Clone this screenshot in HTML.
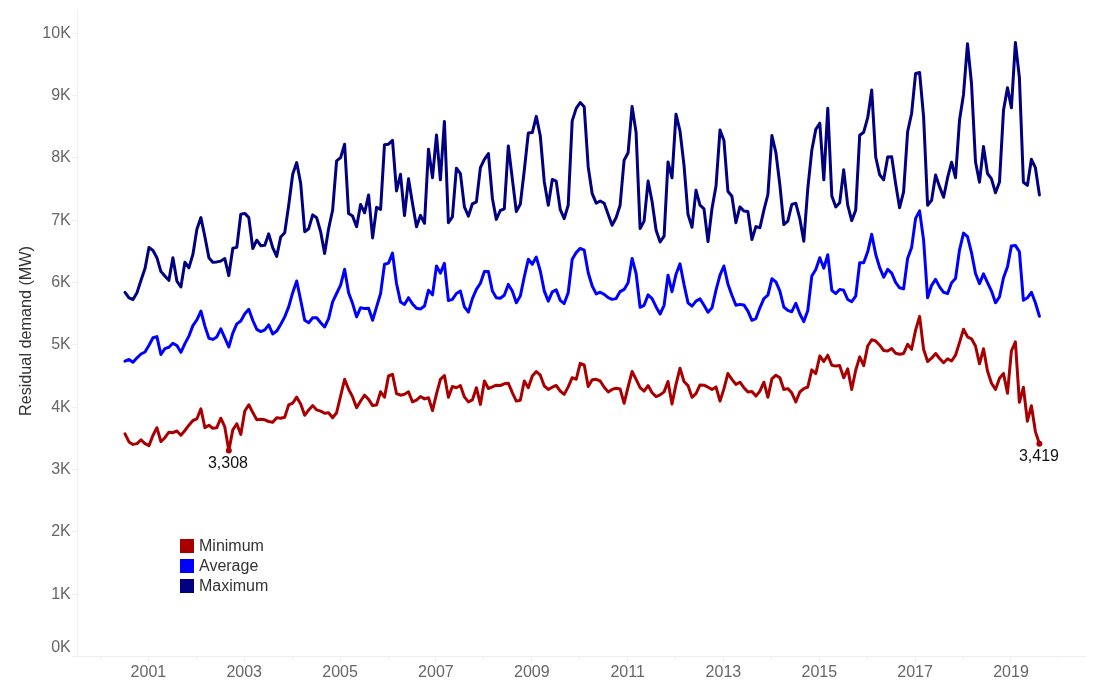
<!DOCTYPE html>
<html><head><meta charset="utf-8"><title>Residual demand</title>
<style>html,body{margin:0;padding:0;background:#fff;overflow:hidden}svg{display:block}</style></head>
<body>
<svg width="1094" height="694" viewBox="0 0 1094 694">
<rect width="1094" height="694" fill="#fff"/>
<g stroke="#efefef" stroke-width="1" shape-rendering="crispEdges" fill="none">
<line x1="77.5" y1="10" x2="77.5" y2="657"/>
<line x1="72" y1="656.5" x2="1086" y2="656.5"/>
<line x1="72" y1="594.5" x2="77" y2="594.5"/>
<line x1="72" y1="531.5" x2="77" y2="531.5"/>
<line x1="72" y1="469.5" x2="77" y2="469.5"/>
<line x1="72" y1="407.5" x2="77" y2="407.5"/>
<line x1="72" y1="344.5" x2="77" y2="344.5"/>
<line x1="72" y1="282.5" x2="77" y2="282.5"/>
<line x1="72" y1="220.5" x2="77" y2="220.5"/>
<line x1="72" y1="157.5" x2="77" y2="157.5"/>
<line x1="72" y1="95.5" x2="77" y2="95.5"/>
<line x1="72" y1="33.5" x2="77" y2="33.5"/>
<line x1="100.5" y1="657" x2="100.5" y2="659"/>
<line x1="148.5" y1="657" x2="148.5" y2="662"/>
<line x1="196.5" y1="657" x2="196.5" y2="659"/>
<line x1="244.5" y1="657" x2="244.5" y2="662"/>
<line x1="292.5" y1="657" x2="292.5" y2="659"/>
<line x1="340.5" y1="657" x2="340.5" y2="662"/>
<line x1="388.5" y1="657" x2="388.5" y2="659"/>
<line x1="435.5" y1="657" x2="435.5" y2="662"/>
<line x1="483.5" y1="657" x2="483.5" y2="659"/>
<line x1="531.5" y1="657" x2="531.5" y2="662"/>
<line x1="579.5" y1="657" x2="579.5" y2="659"/>
<line x1="627.5" y1="657" x2="627.5" y2="662"/>
<line x1="675.5" y1="657" x2="675.5" y2="659"/>
<line x1="723.5" y1="657" x2="723.5" y2="662"/>
<line x1="771.5" y1="657" x2="771.5" y2="659"/>
<line x1="819.5" y1="657" x2="819.5" y2="662"/>
<line x1="867.5" y1="657" x2="867.5" y2="659"/>
<line x1="915.5" y1="657" x2="915.5" y2="662"/>
<line x1="963.5" y1="657" x2="963.5" y2="659"/>
<line x1="1010.5" y1="657" x2="1010.5" y2="662"/>
<line x1="1058.5" y1="657" x2="1058.5" y2="659"/>
</g>
<g font-family="'Liberation Sans', Arial, sans-serif" font-size="16" fill="#666">
<text x="70.8" y="651.6" text-anchor="end">0K</text>
<text x="70.8" y="598.8" text-anchor="end">1K</text>
<text x="70.8" y="536.4" text-anchor="end">2K</text>
<text x="70.8" y="474.1" text-anchor="end">3K</text>
<text x="70.8" y="411.7" text-anchor="end">4K</text>
<text x="70.8" y="349.4" text-anchor="end">5K</text>
<text x="70.8" y="287.0" text-anchor="end">6K</text>
<text x="70.8" y="224.7" text-anchor="end">7K</text>
<text x="70.8" y="162.3" text-anchor="end">8K</text>
<text x="70.8" y="100.0" text-anchor="end">9K</text>
<text x="70.8" y="37.6" text-anchor="end">10K</text>
<text x="148.4" y="677" text-anchor="middle">2001</text>
<text x="244.2" y="677" text-anchor="middle">2003</text>
<text x="340.1" y="677" text-anchor="middle">2005</text>
<text x="435.9" y="677" text-anchor="middle">2007</text>
<text x="531.8" y="677" text-anchor="middle">2009</text>
<text x="627.6" y="677" text-anchor="middle">2011</text>
<text x="723.4" y="677" text-anchor="middle">2013</text>
<text x="819.3" y="677" text-anchor="middle">2015</text>
<text x="915.1" y="677" text-anchor="middle">2017</text>
<text x="1011.0" y="677" text-anchor="middle">2019</text>
</g>
<text transform="translate(31,331) rotate(-90)" text-anchor="middle" font-family="'Liberation Sans', Arial, sans-serif" font-size="16.2" fill="#333">Residual demand (MW)</text>
<rect x="180" y="539" width="14" height="14" fill="#a80000"/>
<rect x="180" y="559" width="14" height="14" fill="#0000ff"/>
<rect x="180" y="579" width="14" height="14" fill="#000080"/>
<g font-family="'Liberation Sans', Arial, sans-serif" font-size="16" fill="#333">
<text x="199" y="551">Minimum</text><text x="199" y="571">Average</text><text x="199" y="591">Maximum</text></g>
<polyline fill="none" stroke="#000080" stroke-width="3" stroke-linejoin="round" stroke-linecap="round" points="125.0,292.4 129.0,297.9 133.0,299.5 137.0,292.8 141.0,280.3 145.0,268.6 149.0,247.4 153.0,250.5 156.9,257.7 160.9,271.6 164.9,276.1 168.9,280.3 172.9,257.7 176.9,281.1 180.9,287.0 184.9,262.2 188.9,267.8 192.9,254.4 196.9,229.3 200.9,217.6 204.9,236.8 208.9,257.7 212.8,262.2 216.8,261.9 220.8,261.1 224.8,258.6 228.8,275.6 232.8,248.2 236.8,247.4 240.8,214.2 244.8,213.4 248.8,217.6 252.8,248.5 256.8,240.2 260.8,245.7 264.8,245.2 268.7,233.8 272.7,247.7 276.7,256.4 280.7,237.0 284.7,232.8 288.7,205.3 292.7,174.3 296.7,162.6 300.7,183.5 304.7,231.7 308.7,228.7 312.7,214.9 316.7,217.8 320.7,232.0 324.6,253.4 328.6,228.7 332.6,210.3 336.6,160.9 340.6,157.6 344.6,144.2 348.6,213.6 352.6,216.1 356.6,226.7 360.6,204.4 364.6,212.8 368.6,194.9 372.6,237.9 376.6,207.3 380.6,209.4 384.5,144.7 388.5,144.2 392.5,140.4 396.5,191.0 400.5,174.3 404.5,215.6 408.5,178.8 412.5,203.6 416.5,226.7 420.5,215.3 424.5,223.3 428.5,149.2 432.5,177.7 436.5,135.0 440.4,179.8 444.4,121.4 448.4,222.7 452.4,216.9 456.4,168.2 460.4,173.6 464.4,206.9 468.4,216.1 472.4,203.8 476.4,201.8 480.4,167.7 484.4,159.4 488.4,153.5 492.4,198.5 496.3,219.4 500.3,210.5 504.3,208.9 508.3,146.0 512.3,178.6 516.3,211.5 520.3,204.3 524.3,170.3 528.3,133.1 532.3,132.6 536.3,116.4 540.3,136.0 544.3,182.0 548.3,205.2 552.3,179.4 556.2,181.1 560.2,209.4 564.2,218.6 568.2,205.2 572.2,120.9 576.2,108.4 580.2,102.5 584.2,106.7 588.2,166.9 592.2,193.7 596.2,203.2 600.2,201.0 604.2,203.2 608.2,214.4 612.1,225.3 616.1,217.7 620.1,205.2 624.1,160.2 628.1,152.7 632.1,106.4 636.1,132.6 640.1,228.6 644.1,221.1 648.1,181.1 652.1,201.8 656.1,230.3 660.1,242.0 664.1,236.1 668.0,161.9 672.0,177.8 676.0,114.2 680.0,131.0 684.0,165.2 688.0,214.4 692.0,227.3 696.0,190.3 700.0,205.2 704.0,208.9 708.0,241.6 712.0,208.5 716.0,186.1 720.0,130.1 723.9,140.2 727.9,191.2 731.9,196.2 735.9,222.7 739.9,206.9 743.9,211.0 747.9,211.5 751.9,239.5 755.9,226.6 759.9,227.8 763.9,210.2 767.9,194.5 771.9,135.5 775.9,152.7 779.9,185.3 783.8,224.5 787.8,221.1 791.8,204.4 795.8,203.2 799.8,218.6 803.8,241.2 807.8,188.5 811.8,150.3 815.8,129.4 819.8,123.2 823.8,179.8 827.8,108.2 831.8,196.0 835.8,206.9 839.7,202.7 843.7,169.8 847.7,205.2 851.7,220.6 855.7,210.3 859.7,135.3 863.7,132.2 867.7,117.7 871.7,90.1 875.7,157.0 879.7,174.8 883.7,179.8 887.7,157.1 891.7,156.7 895.6,183.5 899.6,207.7 903.6,191.9 907.6,131.9 911.6,113.5 915.6,73.4 919.6,72.5 923.6,116.9 927.6,205.2 931.6,200.2 935.6,175.1 939.6,186.9 943.6,197.3 947.6,177.7 951.6,162.2 955.5,177.7 959.5,120.3 963.5,94.4 967.5,43.7 971.5,83.5 975.5,161.8 979.5,182.2 983.5,146.5 987.5,173.5 991.5,178.9 995.5,192.8 999.5,181.9 1003.5,110.3 1007.5,87.7 1011.4,107.8 1015.4,42.5 1019.4,77.7 1023.4,182.2 1027.4,185.3 1031.4,159.3 1035.4,167.7 1039.4,194.9"/>
<polyline fill="none" stroke="#0000ff" stroke-width="3" stroke-linejoin="round" stroke-linecap="round" points="125.0,361.2 129.0,359.5 133.0,362.3 137.0,357.8 141.0,354.0 145.0,352.0 149.0,345.3 153.0,337.8 156.9,336.6 160.9,354.5 164.9,348.6 168.9,347.3 172.9,343.3 176.9,345.6 180.9,352.3 184.9,343.6 188.9,336.1 192.9,325.6 196.9,319.9 200.9,311.0 204.9,326.1 208.9,338.3 212.8,339.4 216.8,336.9 220.8,328.9 224.8,337.8 228.8,347.0 232.8,333.2 236.8,323.9 240.8,321.0 244.8,313.8 248.8,309.3 252.8,320.5 256.8,329.4 260.8,331.6 264.8,329.9 268.7,324.9 272.7,333.9 276.7,331.1 280.7,324.5 284.7,316.9 288.7,306.9 292.7,292.7 296.7,281.0 300.7,300.2 304.7,320.3 308.7,322.8 312.7,317.8 316.7,317.8 320.7,322.8 324.6,327.0 328.6,318.6 332.6,301.9 336.6,293.5 340.6,285.2 344.6,269.3 348.6,292.7 352.6,303.6 356.6,316.9 360.6,307.7 364.6,308.6 368.6,308.2 372.6,320.3 376.6,306.9 380.6,293.5 384.5,264.3 388.5,263.1 392.5,253.1 396.5,283.5 400.5,301.9 404.5,304.4 408.5,297.7 412.5,303.9 416.5,308.2 420.5,308.9 424.5,306.1 428.5,290.2 432.5,294.9 436.5,265.9 440.4,273.1 444.4,263.4 448.4,300.6 452.4,299.4 456.4,293.5 460.4,291.0 464.4,306.9 468.4,312.0 472.4,298.6 476.4,289.4 480.4,283.2 484.4,271.5 488.4,271.5 492.4,291.1 496.3,297.7 500.3,298.2 504.3,295.2 508.3,284.4 512.3,291.1 516.3,302.8 520.3,296.1 524.3,276.8 528.3,259.3 532.3,264.3 536.3,257.1 540.3,271.0 544.3,291.1 548.3,301.1 552.3,291.9 556.2,289.9 560.2,300.3 564.2,303.6 568.2,292.7 572.2,259.3 576.2,252.6 580.2,248.4 584.2,250.1 588.2,272.7 592.2,286.0 596.2,293.9 600.2,292.2 604.2,294.4 608.2,297.7 612.1,299.4 616.1,298.6 620.1,291.6 624.1,289.4 628.1,282.7 632.1,258.4 636.1,273.5 640.1,307.3 644.1,305.3 648.1,294.9 652.1,298.6 656.1,306.9 660.1,314.0 664.1,305.3 668.0,275.2 672.0,291.6 676.0,274.3 680.0,263.8 684.0,284.4 688.0,302.8 692.0,306.1 696.0,301.1 700.0,298.9 704.0,305.3 708.0,312.3 712.0,307.8 716.0,290.2 720.0,275.2 723.9,266.0 727.9,283.9 731.9,295.2 735.9,305.3 739.9,304.4 743.9,304.9 747.9,311.1 751.9,320.3 755.9,318.6 759.9,307.8 763.9,298.6 767.9,295.2 771.9,278.8 775.9,281.9 779.9,291.1 783.8,307.0 787.8,310.4 791.8,311.7 795.8,303.3 799.8,313.7 803.8,321.6 807.8,310.4 811.8,276.1 815.8,269.4 819.8,257.7 823.8,268.2 827.8,254.8 831.8,290.3 835.8,293.6 839.7,289.4 843.7,290.3 847.7,299.5 851.7,301.7 855.7,296.1 859.7,262.7 863.7,262.7 867.7,251.8 871.7,234.3 875.7,254.3 879.7,267.7 883.7,277.2 887.7,269.4 891.7,273.2 895.6,282.3 899.6,287.8 903.6,288.9 907.6,258.5 911.6,247.6 915.6,218.4 919.6,210.9 923.6,240.1 927.6,297.8 931.6,285.3 935.6,279.4 939.6,286.9 943.6,292.3 947.6,293.6 951.6,282.7 955.5,278.5 959.5,250.1 963.5,233.1 967.5,236.7 971.5,252.6 975.5,273.5 979.5,283.6 983.5,273.9 987.5,282.7 991.5,291.1 995.5,302.8 999.5,296.9 1003.5,277.7 1007.5,266.8 1011.4,245.9 1015.4,245.4 1019.4,251.8 1023.4,300.3 1027.4,297.8 1031.4,292.3 1035.4,302.8 1039.4,316.2"/>
<polyline fill="none" stroke="#a80000" stroke-width="3" stroke-linejoin="round" stroke-linecap="round" points="125.0,433.9 129.0,441.9 133.0,444.4 137.0,443.6 141.0,439.9 145.0,443.6 149.0,445.6 153.0,435.2 156.9,427.7 160.9,441.6 164.9,437.7 168.9,432.2 172.9,432.7 176.9,431.0 180.9,435.2 184.9,430.5 188.9,425.2 192.9,420.5 196.9,418.8 200.9,408.8 204.9,427.7 208.9,425.2 212.8,428.2 216.8,427.7 220.8,418.2 224.8,426.9 228.8,450.6 232.8,429.9 236.8,423.8 240.8,434.4 244.8,411.0 248.8,404.8 252.8,412.6 256.8,419.8 260.8,419.2 264.8,419.8 268.7,421.5 272.7,422.2 276.7,417.7 280.7,418.3 284.7,417.3 288.7,404.9 292.7,403.2 296.7,397.2 300.7,403.9 304.7,415.3 308.7,409.9 312.7,405.6 316.7,409.9 320.7,411.1 324.6,413.2 328.6,412.7 332.6,417.8 336.6,412.7 340.6,396.0 344.6,379.3 348.6,389.3 352.6,396.9 356.6,407.7 360.6,401.0 364.6,395.2 368.6,399.4 372.6,405.6 376.6,404.9 380.6,391.8 384.5,397.2 388.5,376.0 392.5,374.3 396.5,393.5 400.5,395.2 404.5,394.3 408.5,391.8 412.5,401.9 416.5,400.2 420.5,396.5 424.5,398.9 428.5,397.7 432.5,410.6 436.5,393.8 440.4,379.3 444.4,375.5 448.4,397.2 452.4,386.5 456.4,387.7 460.4,385.5 464.4,396.9 468.4,401.9 472.4,399.9 476.4,387.7 480.4,404.4 484.4,381.0 488.4,388.5 492.4,386.9 496.3,385.2 500.3,385.5 504.3,383.8 508.3,383.2 512.3,392.7 516.3,401.1 520.3,400.2 524.3,381.0 528.3,387.7 532.3,376.0 536.3,371.5 540.3,375.2 544.3,386.0 548.3,389.4 552.3,387.2 556.2,385.5 560.2,391.0 564.2,394.4 568.2,386.9 572.2,377.7 576.2,379.3 580.2,363.4 584.2,364.8 588.2,386.5 592.2,379.8 596.2,379.3 600.2,381.0 604.2,387.2 608.2,391.9 612.1,389.4 616.1,388.2 620.1,388.9 624.1,403.3 628.1,386.9 632.1,371.5 636.1,379.4 640.1,387.7 644.1,391.1 648.1,385.6 652.1,392.7 656.1,396.6 660.1,394.9 664.1,391.9 668.0,381.5 672.0,403.9 676.0,384.4 680.0,368.2 684.0,381.5 688.0,385.6 692.0,397.3 696.0,393.6 700.0,384.9 704.0,385.2 708.0,387.2 712.0,389.4 716.0,386.9 720.0,401.1 723.9,388.9 727.9,373.5 731.9,379.4 735.9,384.4 739.9,382.2 743.9,387.7 747.9,391.9 751.9,391.6 755.9,396.1 759.9,391.1 763.9,382.2 767.9,397.3 771.9,378.9 775.9,375.2 779.9,377.7 783.8,389.5 787.8,388.6 791.8,392.8 795.8,402.0 799.8,392.0 803.8,388.6 807.8,387.0 811.8,369.9 815.8,373.6 819.8,356.0 823.8,361.5 827.8,355.2 831.8,365.2 835.8,366.1 839.7,365.6 843.7,377.8 847.7,368.9 851.7,389.5 855.7,370.2 859.7,356.9 863.7,365.6 867.7,346.0 871.7,339.8 875.7,341.0 879.7,345.2 883.7,350.5 887.7,351.0 891.7,348.5 895.6,353.2 899.6,354.3 903.6,353.5 907.6,344.3 911.6,349.3 915.6,330.1 919.6,316.4 923.6,349.3 927.6,361.5 931.6,358.2 935.6,353.5 939.6,358.5 943.6,362.7 947.6,358.8 951.6,361.0 955.5,355.2 959.5,342.6 963.5,329.2 967.5,336.8 971.5,338.8 975.5,346.0 979.5,363.8 983.5,348.8 987.5,371.0 991.5,383.2 995.5,389.4 999.5,378.2 1003.5,373.5 1007.5,393.3 1011.4,351.0 1015.4,341.8 1019.4,402.3 1023.4,387.3 1027.4,421.2 1031.4,405.7 1035.4,431.6 1039.4,443.7"/>
<circle cx="228.8" cy="450.6" r="3" fill="#a80000"/>
<circle cx="1039.4" cy="443.7" r="3" fill="#a80000"/>
<g font-family="'Liberation Sans', Arial, sans-serif" font-size="16" fill="#111" text-anchor="middle">
<text x="228" y="468">3,308</text><text x="1039" y="461">3,419</text></g>
</svg>
</body></html>
